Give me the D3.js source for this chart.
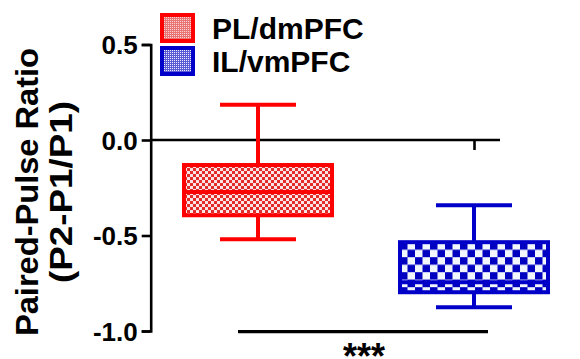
<!DOCTYPE html>
<html>
<head>
<meta charset="utf-8">
<script src="https://cdn.jsdelivr.net/npm/d3@7"></script>
<style>
  html, body { margin: 0; padding: 0; background: #fff; }
  svg { display: block; }
  text { font-family: "Liberation Sans", Arial, sans-serif; font-weight: bold; }
</style>
</head>
<body>
<svg id="chart" width="580" height="359"></svg>
<script>
// Paired-pulse ratio, box-and-whisker summary per region
const groups = ["PL/dmPFC", "IL/vmPFC"];
const whiskerMax = [0.184, -0.341];
const upperQuartile = [-0.131, -0.535];
const median = [-0.272, -0.745];
const lowerQuartile = [-0.394, -0.797];
const whiskerMin = [-0.519, -0.876];
const colors = ["#ff0000", "#0000c8"];

const yTicks = [0.5, 0.0, -0.5, -1.0];
const yTickLabels = ["0.5", "0.0", "-0.5", "-1.0"];
const yTitle = ["Paired-Pulse Ratio", "(P2-P1/P1)"];
const significance = "***";

const svg = d3.select("#chart");
const axisX = 150.7;

const y = d3.scaleLinear().domain([-1, 0.5]).range([331, 44.5]);
const x = d3.scalePoint().domain(groups).range([258, 474]);
const boxW = 148, capW = 76;

// fill patterns
const defs = svg.append("defs");
function checker(id, size, bg, fg, offX, offY) {
  const p = defs.append("pattern").attr("id", id)
    .attr("patternUnits", "userSpaceOnUse")
    .attr("width", size * 2).attr("height", size * 2)
    .attr("patternTransform", `translate(${offX},${offY})`);
  p.append("rect").attr("width", size * 2).attr("height", size * 2).attr("fill", bg);
  p.append("rect").attr("width", size).attr("height", size).attr("fill", fg);
  p.append("rect").attr("x", size).attr("y", size).attr("width", size).attr("height", size).attr("fill", fg);
}
function dotted(id, bg, dot) {
  const p = defs.append("pattern").attr("id", id)
    .attr("patternUnits", "userSpaceOnUse").attr("width", 2).attr("height", 2);
  p.append("rect").attr("width", 2).attr("height", 2).attr("fill", bg);
  p.append("rect").attr("width", 1).attr("height", 1).attr("fill", dot);
}
checker("fill0", 3, "#fbe4e4", "#e32a2a", x(groups[0]) - boxW / 2, y(upperQuartile[0]));
checker("fill1", 7.5, "#f2f6ff", "#0000c0", x(groups[1]) - boxW / 2, y(upperQuartile[1]));
dotted("leg0", "#e87474", "#f9d4d4");
dotted("leg1", "#5a5ad4", "#eeeeff");

// y axis
const yAxis = d3.axisLeft(y).tickValues(yTicks).tickSize(9).tickSizeOuter(9)
  .tickFormat((d, i) => yTickLabels[i]);
const gy = svg.append("g").attr("transform", `translate(${axisX},0)`).call(yAxis);
gy.selectAll("path, line").attr("stroke", "#000").attr("stroke-width", 2.6);
gy.selectAll("text").attr("font-size", 26).attr("fill", "#000").attr("x", -13).attr("dy", "0.36em");

// zero line with category ticks
const xAxis = d3.axisBottom(x).tickSize(10).tickSizeOuter(0).tickFormat("");
const gx = svg.append("g").attr("transform", `translate(0,${y(0)})`).call(xAxis);
gx.select(".domain").remove();
gx.selectAll("line").attr("stroke", "#000").attr("stroke-width", 2.6);
gx.append("line").attr("x1", axisX).attr("x2", 500)
  .attr("stroke", "#000").attr("stroke-width", 2.6);

// boxes and whiskers
const data = groups.map((g, i) => ({
  g, i, max: whiskerMax[i], q3: upperQuartile[i], med: median[i],
  q1: lowerQuartile[i], min: whiskerMin[i], c: colors[i]
}));
const box = svg.append("g").selectAll("g").data(data).join("g");
box.append("line")
  .attr("x1", d => x(d.g)).attr("x2", d => x(d.g))
  .attr("y1", d => y(d.max)).attr("y2", d => y(d.q3));
box.append("line")
  .attr("x1", d => x(d.g)).attr("x2", d => x(d.g))
  .attr("y1", d => y(d.q1)).attr("y2", d => y(d.min));
box.append("line")
  .attr("x1", d => x(d.g) - capW / 2).attr("x2", d => x(d.g) + capW / 2)
  .attr("y1", d => y(d.max)).attr("y2", d => y(d.max));
box.append("line")
  .attr("x1", d => x(d.g) - capW / 2).attr("x2", d => x(d.g) + capW / 2)
  .attr("y1", d => y(d.min)).attr("y2", d => y(d.min));
box.selectAll("line").attr("stroke", d => d.c).attr("stroke-width", 4);
box.append("rect")
  .attr("x", d => x(d.g) - boxW / 2).attr("width", boxW)
  .attr("y", d => y(d.q3)).attr("height", d => y(d.q1) - y(d.q3))
  .attr("fill", d => `url(#fill${d.i})`)
  .attr("stroke", d => d.c).attr("stroke-width", 4);
box.append("line")
  .attr("x1", d => x(d.g) - boxW / 2).attr("x2", d => x(d.g) + boxW / 2)
  .attr("y1", d => y(d.med)).attr("y2", d => y(d.med))
  .attr("stroke", d => d.c).attr("stroke-width", 4);

// significance bar
svg.append("line")
  .attr("x1", x(groups[0]) - 20).attr("x2", x(groups[1]) + 14)
  .attr("y1", y(-1) + 0.7).attr("y2", y(-1) + 0.7)
  .attr("stroke", "#000").attr("stroke-width", 3.2);
svg.append("text").attr("x", 364).attr("y", 369)
  .attr("text-anchor", "middle").attr("font-size", 36).text(significance);

// y axis title
const titleCx = 192;
[38, 72].forEach((bx, i) => {
  svg.append("text")
    .attr("transform", `translate(${bx},${titleCx}) rotate(-90)`)
    .attr("text-anchor", "middle").attr("font-size", 31)
    .attr("textLength", i === 0 ? 288 : 182).attr("lengthAdjust", "spacingAndGlyphs")
    .text(yTitle[i]);
});

// legend
const leg = svg.append("g").selectAll("g").data(data).join("g")
  .attr("transform", (d, i) => `translate(162,${15 + i * 33})`);
leg.append("rect").attr("width", 31).attr("height", 26)
  .attr("fill", d => `url(#leg${d.i})`)
  .attr("stroke", d => d.c).attr("stroke-width", 4);
leg.append("text").attr("x", 50).attr("y", 23.5)
  .attr("font-size", 30).attr("fill", "#000").text(d => d.g);
</script>
</body>
</html>
